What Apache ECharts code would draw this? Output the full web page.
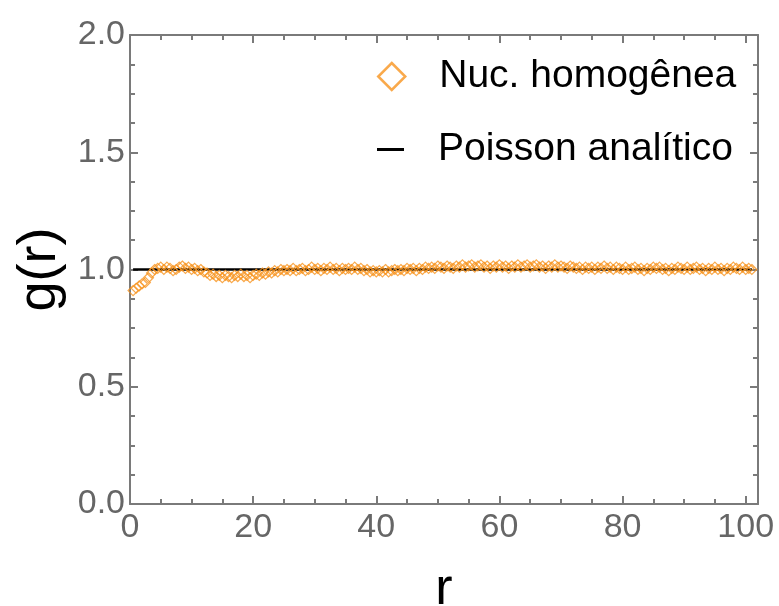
<!DOCTYPE html>
<html>
<head>
<meta charset="utf-8">
<script src="https://cdn.jsdelivr.net/npm/echarts@6/dist/echarts.min.js"></script>
<style>
  html, body { margin: 0; padding: 0; background: #fff; }
  #chart { width: 779px; height: 606px; }
</style>
</head>
<body>
<div id="chart"></div>
<script>
// g(r) samples, one every 0.5 in r starting at r = 0.5
const rStart = 0.5;
const rStep = 0.5;
const gValues = [
  0.91, 0.92, 0.93, 0.94, 0.945, 0.965, 0.985, 1.0, 1.005, 1.01,
  1.0, 1.01, 1.005, 0.995, 1.0, 1.01, 1.015, 1.005, 1.01, 1.0,
  1.005, 0.995, 1.0, 0.99, 0.985, 0.975, 0.98, 0.97, 0.975, 0.965,
  0.975, 0.97, 0.965, 0.975, 0.97, 0.98, 0.97, 0.975, 0.965, 0.975,
  0.98, 0.975, 0.985, 0.98, 0.99, 0.985, 0.995, 0.99, 1.0, 0.995,
  1.0, 0.995, 1.005, 0.995, 1.0, 1.005, 0.995, 1.0, 1.01, 1.0,
  1.005, 0.995, 1.005, 1.0, 1.01, 1.0, 1.005, 0.995, 1.005, 1.0,
  1.005, 1.0, 1.01, 1.0, 1.005, 0.995, 1.0, 0.99, 0.995, 0.99,
  0.995, 0.99, 1.0, 0.99, 0.995, 1.0, 0.995, 1.0, 0.995, 1.005,
  1.0, 1.005, 0.995, 1.005, 1.0, 1.01, 1.005, 1.01, 1.005, 1.015,
  1.01, 1.005, 1.015, 1.01, 1.005, 1.015, 1.01, 1.02, 1.01, 1.015,
  1.02, 1.01, 1.015, 1.02, 1.01, 1.015, 1.005, 1.015, 1.01, 1.02,
  1.01, 1.015, 1.005, 1.015, 1.01, 1.02, 1.01, 1.015, 1.02, 1.01,
  1.015, 1.02, 1.01, 1.015, 1.005, 1.015, 1.01, 1.02, 1.01, 1.015,
  1.01, 1.005, 1.015, 1.01, 1.005, 1.01, 1.0, 1.01, 1.005, 1.01,
  1.0, 1.01, 1.005, 1.015, 1.005, 1.01, 1.0, 1.01, 1.005, 1.0,
  1.01, 1.0, 1.005, 1.01, 1.0, 1.005, 0.995, 1.005, 1.0, 1.01,
  1.005, 1.01, 1.0, 1.005, 0.995, 1.005, 1.0, 1.01, 1.005, 1.0,
  1.01, 1.0, 1.005, 1.01, 1.0, 1.005, 0.995, 1.005, 1.0, 1.01,
  1.0, 1.005, 0.995, 1.005, 1.0, 1.01, 1.005, 1.0, 1.01, 1.0,
  1.005, 1.0
];
// analytic Poisson result: g(r) = 1 over the whole range
const poissonR = [0.5, 101];
const poissonG = [1, 1];

const yTicks = ["0.0", "0.5", "1.0", "1.5", "2.0"];
const xTicks = ["0", "20", "40", "60", "80", "100"];

const scatterData = gValues.map((g, i) => [rStart + i * rStep, g]);
const lineData = poissonR.map((r, i) => [r, poissonG[i]]);

const ORANGE = "#f7931e";
const AXIS = "#7a7a7a";
const LABEL = "#666666";
const FONT = "Liberation Sans, Arial, sans-serif";

const chart = echarts.init(document.getElementById("chart"));

const frameAxis = (extra) => Object.assign({
  type: "value",
  axisLine: { show: true, onZero: false, lineStyle: { color: AXIS, width: 2 } },
  axisTick: { show: true, inside: true, length: 8, lineStyle: { color: AXIS, width: 2 } },
  minorTick: { show: true, splitNumber: 4, length: 5, lineStyle: { color: AXIS, width: 2 } },
  splitLine: { show: false },
}, extra);

chart.setOption({
  backgroundColor: "#fff",
  animation: false,
  grid: { left: 130, right: 21, top: 35, bottom: 102, outerBoundsMode: "none" },
  legend: [
    {
      data: [{ name: "Nuc. homogênea", icon: "diamond" }],
      left: 377,
      top: 57,
      padding: 0,
      itemWidth: 27,
      itemHeight: 27,
      itemStyle: { color: "rgba(0,0,0,0)", borderColor: ORANGE, borderWidth: 2.5 },
      textStyle: { fontFamily: FONT, fontSize: 39, color: "#000", padding: [0, 0, 0, 29] },
      selectedMode: false,
    },
    {
      data: [{ name: "Poisson analítico", icon: "rect" }],
      left: 377,
      top: 130,
      padding: 0,
      itemWidth: 27,
      itemHeight: 3,
      itemStyle: { color: "#000" },
      textStyle: { fontFamily: FONT, fontSize: 39, color: "#000", padding: [0, 0, 0, 29] },
      selectedMode: false,
    },
  ],
  xAxis: [
    frameAxis({
      min: 0,
      max: 102,
      interval: 20,
      name: "r",
      nameLocation: "middle",
      nameGap: 60,
      nameTextStyle: { fontFamily: FONT, fontSize: 52, color: "#000" },
      axisLabel: {
        fontFamily: FONT, fontSize: 34, color: LABEL, margin: 7,
        formatter: (v) => (xTicks.includes(String(v)) ? String(v) : ""),
        showMaxLabel: false,
      },
    }),
    frameAxis({ min: 0, max: 102, interval: 20, position: "top", axisLabel: { show: false } }),
  ],
  yAxis: [
    frameAxis({
      min: 0,
      max: 2,
      interval: 0.5,
      name: "g(r)",
      nameLocation: "middle",
      nameGap: 62,
      nameTextStyle: { fontFamily: FONT, fontSize: 54, color: "#000" },
      axisLabel: {
        fontFamily: FONT, fontSize: 34, color: LABEL, margin: 5,
        formatter: (v) => yTicks[Math.round(v * 2)],
      },
    }),
    frameAxis({ min: 0, max: 2, interval: 0.5, position: "right", axisLabel: { show: false } }),
  ],
  series: [
    {
      name: "Nuc. homogênea",
      type: "scatter",
      symbol: "diamond",
      symbolSize: 10,
      itemStyle: { color: "rgba(0,0,0,0)", borderColor: ORANGE, borderWidth: 1.2 },
      data: scatterData,
      z: 3,
    },
    {
      name: "Poisson analítico",
      type: "line",
      showSymbol: false,
      lineStyle: { color: "#000", width: 2.5 },
      data: lineData,
      z: 2,
    },
  ],
});
</script>
</body>
</html>
